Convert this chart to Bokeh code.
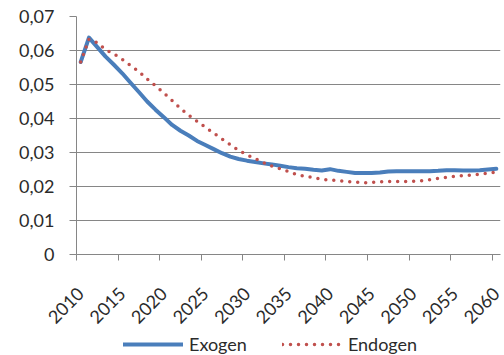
import numpy as np
from bokeh.plotting import figure
from bokeh.layouts import column
from bokeh.models import (Range1d, FixedTicker, CustomJSTickFormatter, Legend, LegendItem)
from bokeh.embed import file_html
from bokeh.resources import INLINE
from math import pi

years = list(range(2010, 2061))
exogen = [0.0566, 0.0638, 0.0610, 0.0582, 0.0558, 0.0533, 0.0505, 0.0478, 0.0450, 0.0426,
          0.0404, 0.0381, 0.0364, 0.0350, 0.0334, 0.0322, 0.0310, 0.0298, 0.0288, 0.0281,
          0.0276, 0.0272, 0.0268, 0.0265, 0.0261, 0.0257, 0.0254, 0.0252, 0.0249, 0.0247,
          0.0251, 0.0246, 0.0243, 0.0240, 0.0240, 0.0240, 0.0241, 0.0244, 0.0245, 0.0245,
          0.0245, 0.0245, 0.0245, 0.0246, 0.0248, 0.0248, 0.0247, 0.0247, 0.0248, 0.0250,
          0.0252]
endogen = [0.0566, 0.0633, 0.0623, 0.0602, 0.0590, 0.0574, 0.0556, 0.0538, 0.0516, 0.0496,
           0.0475, 0.0453, 0.0430, 0.0410, 0.0392, 0.0374, 0.0357, 0.0340, 0.0323, 0.0306,
           0.0293, 0.0282, 0.0270, 0.0260, 0.0252, 0.0244, 0.0235, 0.0230, 0.0226, 0.0221,
           0.0219, 0.0217, 0.0215, 0.0213, 0.0211, 0.0212, 0.0214, 0.0215, 0.0215, 0.0215,
           0.0215, 0.0217, 0.0220, 0.0224, 0.0227, 0.0230, 0.0232, 0.0233, 0.0236, 0.0239,
           0.0242]
x_tick_years = [2010, 2015, 2020, 2025, 2030, 2035, 2040, 2045, 2050, 2055, 2060]
y_ticks = [0, 0.01, 0.02, 0.03, 0.04, 0.05, 0.06, 0.07]
series_names = ["Exogen", "Endogen"]

FONT = "Lato"
FS = "18px"
TXT = "#2b2b2b"
GRID = "#868686"
BLUE = "#4A7EBB"
RED = "#C0504D"

p = figure(width=504, height=332, output_backend="svg", toolbar_location=None,
           x_range=Range1d(years[0] - 0.5, years[-1] + 0.5),
           y_range=Range1d(0, 0.07),
           min_border_left=76, min_border_right=4, min_border_top=16, min_border_bottom=78)
p.outline_line_color = None
p.xgrid.grid_line_color = None
p.ygrid.grid_line_color = GRID
p.ygrid.grid_line_width = 1

p.yaxis.ticker = FixedTicker(ticks=y_ticks)
p.yaxis.formatter = CustomJSTickFormatter(code="""
return tick == 0 ? "0" : tick.toFixed(2).replace(".", ",");
""")
# labels centred on categories, tick marks on category boundaries
p.xaxis.ticker = FixedTicker(ticks=x_tick_years, minor_ticks=[y - 0.5 for y in x_tick_years])
p.xaxis.formatter = CustomJSTickFormatter(code="return tick.toFixed(0);")
p.xaxis.major_label_orientation = pi / 4

for ax in (p.xaxis, p.yaxis):
    ax.axis_line_color = GRID
    ax.major_tick_line_color = GRID
    ax.major_tick_in = 0
    ax.major_label_text_font = FONT
    ax.major_label_text_font_size = FS
    ax.major_label_text_color = TXT
p.yaxis.minor_tick_line_color = None
p.yaxis.major_tick_out = 7
p.yaxis.major_label_standoff = 15
p.xaxis.major_tick_out = 0
p.xaxis.major_tick_line_color = None
p.xaxis.minor_tick_line_color = GRID
p.xaxis.minor_tick_in = 0
p.xaxis.minor_tick_out = 6
p.xaxis.major_label_standoff = 30

p.line(years, exogen, line_color=BLUE, line_width=4, line_join="round", line_cap="round")
p.line(years, endogen, line_color=RED, line_width=3.5, line_dash="0 8", line_cap="round")

# legend strip below the chart (its frame is aligned with the chart frame)
lg = figure(width=504, height=23, output_backend="svg", toolbar_location=None,
            x_range=Range1d(0, 1), y_range=Range1d(0, 1),
            x_axis_location=None, y_axis_location=None, min_border=0)
lg.outline_line_color = None
lg.grid.grid_line_color = None
# off-range stand-ins so the legend can draw each series' line style
l1 = lg.line([5, 6], [5, 6], line_color=BLUE, line_width=4, line_cap="round")
l2 = lg.line([5, 6], [5, 6], line_color=RED, line_width=3.5, line_dash="0 8", line_cap="round")
legend = Legend(items=[LegendItem(label=series_names[0], renderers=[l1]),
                       LegendItem(label=series_names[1], renderers=[l2])],
                orientation="horizontal", location=(47, 0),
                label_text_font=FONT, label_text_font_size=FS, label_text_color=TXT,
                glyph_width=60, glyph_height=20, label_standoff=6, spacing=35,
                padding=0, margin=0, border_line_color=None, background_fill_alpha=0)
lg.add_layout(legend, "center")

open("out.html", "w").write(file_html(column(p, lg, spacing=0), INLINE))
